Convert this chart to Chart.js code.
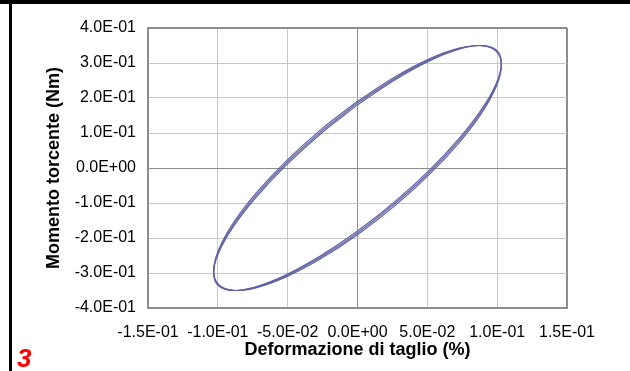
<!DOCTYPE html>
<html lang="it">
<head>
  <meta charset="UTF-8">
  <title>Momento torcente vs deformazione di taglio</title>
  <script src="https://cdn.jsdelivr.net/npm/chart.js"></script>
  <style>
    body { margin: 0; background: #fff; }
    #wrap { position: relative; width: 630px; height: 371px; overflow: hidden; }
    #grafico { position: absolute; left: 0; top: 0; }
    #barraTop { position: absolute; left: 0; top: 0; width: 630px; height: 4px; background: #000; }
    #barraSx { position: absolute; left: 9px; top: 0; width: 3px; height: 371px; background: #000; }
    #numero {
      position: absolute; left: 17px; top: 343px;
      font: italic bold 26px "Liberation Sans", Arial, sans-serif; color: #ff0000;
    }
  </style>
</head>
<body>
  <div id="wrap">
    <canvas id="grafico" width="630" height="371"></canvas>
    <div id="barraTop"></div>
    <div id="barraSx"></div>
    <div id="numero">3</div>
  </div>

  <script>
    // tacche degli assi
    const xTickValues = [-0.15, -0.10, -0.05, 0, 0.05, 0.10, 0.15];
    const xTickLabels = ['-1.5E-01', '-1.0E-01', '-5.0E-02', '0.0E+00', '5.0E-02', '1.0E-01', '1.5E-01'];
    const yTickValues = [-0.4, -0.3, -0.2, -0.1, 0, 0.1, 0.2, 0.3, 0.4];
    const yTickLabels = ['-4.0E-01', '-3.0E-01', '-2.0E-01', '-1.0E-01', '0.0E+00', '1.0E-01', '2.0E-01', '3.0E-01', '4.0E-01'];

    // deformazione imposta (%) - uguale per ogni ciclo
    const deformazione = [0, 0.0267, 0.0515, 0.0728, 0.0892, 0.0995, 0.103, 0.0995, 0.0892, 0.0728, 0.0515, 0.0267,
                          0, -0.0267, -0.0515, -0.0728, -0.0892, -0.0995, -0.103, -0.0995, -0.0892, -0.0728, -0.0515, -0.0267, 0];

    // momento torcente (Nm) letto per tre cicli sovrapposti
    const momentoCiclo1 = [0.1855, 0.2560, 0.3090, 0.3410, 0.3498, 0.3347, 0.2968, 0.2387, 0.1643, 0.0787, -0.0122, -0.1023,
                           -0.1855, -0.2560, -0.3090, -0.3410, -0.3498, -0.3347, -0.2968, -0.2387, -0.1643, -0.0787, 0.0122, 0.1023, 0.1855];
    const momentoCiclo2 = [0.1803, 0.2518, 0.3061, 0.3396, 0.3499, 0.3364, 0.3000, 0.2431, 0.1697, 0.0847, -0.0061, -0.0965,
                           -0.1803, -0.2518, -0.3061, -0.3396, -0.3499, -0.3364, -0.3000, -0.2431, -0.1697, -0.0847, 0.0061, 0.0965, 0.1803];
    const momentoCiclo3 = [0.1906, 0.2601, 0.3119, 0.3423, 0.3495, 0.3329, 0.2935, 0.2342, 0.1589, 0.0728, -0.0183, -0.1082,
                           -0.1906, -0.2601, -0.3119, -0.3423, -0.3495, -0.3329, -0.2935, -0.2342, -0.1589, -0.0728, 0.0183, 0.1082, 0.1906];

    const punti = (ys) => deformazione.map((x, i) => ({ x: x, y: ys[i] }));

    const coloreLinea = '#6163a3';
    const coloreBordo = '#8c8c8c';
    const coloreGriglia = '#c8c8c8';

    const serie = [momentoCiclo1, momentoCiclo2, momentoCiclo3].map(ys => ({
      data: punti(ys),
      showLine: true,
      borderColor: coloreLinea,
      borderWidth: 1.2,
      pointRadius: 0,
      tension: 0.4,
      fill: false
    }));

    // griglia: bordo esterno e linee dello zero più scure
    const grigliaColore = (vals) => (c) => {
      const v = c.tick ? c.tick.value : null;
      if (v === vals[0] || v === vals[vals.length - 1] || v === 0) return coloreBordo;
      return coloreGriglia;
    };
    const grigliaSpessore = (vals) => (c) => {
      const v = c.tick ? c.tick.value : null;
      if (v === vals[0] || v === vals[vals.length - 1]) return 2;
      return 1;
    };

    Chart.defaults.font.family = '"Liberation Sans", Arial, sans-serif';
    Chart.defaults.color = '#000';

    new Chart(document.getElementById('grafico'), {
      type: 'scatter',
      data: { datasets: serie },
      options: {
        responsive: false,
        devicePixelRatio: 1,
        animation: false,
        layout: { padding: { left: 0, right: 63, top: 28, bottom: 0 } },
        plugins: { legend: { display: false }, tooltip: { enabled: false } },
        scales: {
          x: {
            type: 'linear',
            min: xTickValues[0],
            max: xTickValues[xTickValues.length - 1],
            afterBuildTicks: (s) => { s.ticks = xTickValues.map(v => ({ value: v })); },
            afterFit: (s) => { s.height = 63; },
            ticks: {
              font: { size: 16 },
              padding: 15,
              maxRotation: 0,
              autoSkip: false,
              callback: (v, i) => xTickLabels[i]
            },
            grid: {
              drawTicks: false,
              color: grigliaColore(xTickValues),
              lineWidth: grigliaSpessore(xTickValues)
            },
            border: { display: true, color: coloreBordo, width: 2 },
            title: {
              display: true,
              text: 'Deformazione di taglio (%)',
              font: { size: 18, weight: 'bold' },
              padding: { top: 0, bottom: 10 }
            }
          },
          y: {
            type: 'linear',
            min: yTickValues[0],
            max: yTickValues[yTickValues.length - 1],
            afterBuildTicks: (s) => { s.ticks = yTickValues.map(v => ({ value: v })); },
            afterFit: (s) => { s.width = 148; },
            ticks: {
              font: { size: 16 },
              padding: 12,
              autoSkip: false,
              callback: (v, i) => yTickLabels[i]
            },
            grid: {
              drawTicks: false,
              color: grigliaColore(yTickValues),
              lineWidth: grigliaSpessore(yTickValues)
            },
            border: { display: true, color: coloreBordo, width: 2 },
            title: {
              display: true,
              text: 'Momento torcente (Nm)',
              font: { size: 18, weight: 'bold' },
              padding: { top: 43, bottom: 0 }
            }
          }
        }
      }
    });
  </script>
</body>
</html>
